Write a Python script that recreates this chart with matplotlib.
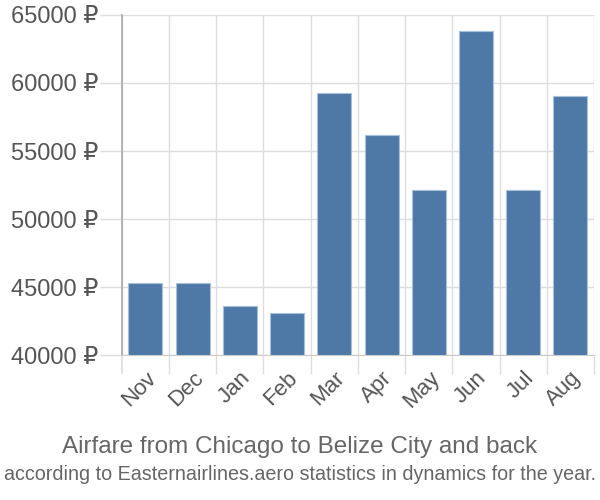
import matplotlib
matplotlib.use("Agg")
import matplotlib.pyplot as plt
import numpy as np

plt.rcParams['font.family'] = ['Liberation Sans', 'DejaVu Sans']

months = ["Nov", "Dec", "Jan", "Feb", "Mar", "Apr", "May", "Jun", "Jul", "Aug"]
prices = [45300, 45300, 43600, 43100, 59250, 56200, 52150, 63850, 52150, 59050]
yticks = [40000, 45000, 50000, 55000, 60000, 65000]

fig = plt.figure(figsize=(6, 5), dpi=100)
ax = fig.add_axes([0.203, 0.29, 0.787, 0.68])

x = np.arange(len(months))
ax.bar(x, [p - 40000 for p in prices], bottom=40000, width=0.72,
       color="#4e79a7", edgecolor="#a9c0d9", linewidth=0.8, zorder=3)

ax.set_xlim(-0.5, len(months) - 0.5)
ax.set_ylim(40000, 65000)
ax.set_yticks(yticks)
ax.set_yticklabels([f"{v} ₽" for v in yticks])
ax.set_xticks(x)
ax.set_xticklabels(months, rotation=45, ha="right", rotation_mode="anchor")
ax.set_xticks(np.arange(-0.5, len(months)), minor=True)

grid_c = "#dddddd"
ax.grid(True, axis="y", color=grid_c, linewidth=1, zorder=0)
ax.grid(True, axis="x", which="minor", color=grid_c, linewidth=1, zorder=0)
ax.tick_params(axis="x", which="major", length=0, labelsize=16, labelcolor="#555555", pad=9)
ax.tick_params(axis="x", which="minor", length=14, color=grid_c, width=1)
ax.tick_params(axis="y", length=16, color=grid_c, width=1, labelsize=17, labelcolor="#555555", pad=1)
t0 = ax.xaxis.get_minor_ticks()[0]
t0.tick1line.set_color("#aaaaaa")
t0.tick1line.set_markeredgewidth(1.2)

for s in ["top", "right"]:
    ax.spines[s].set_visible(False)
ax.spines["left"].set_color("#aaaaaa")
ax.spines["left"].set_linewidth(1.2)
ax.spines["bottom"].set_color("#cccccc")

fig.text(0.5, 0.106, "Airfare from Chicago to Belize City and back", ha="center",
         va="center", fontsize=17.5, color="#666666")
fig.text(0.5, 0.05, "according to Easternairlines.aero statistics in dynamics for the year.",
         ha="center", va="center", fontsize=14.2, color="#666666")

fig.savefig("out.png", dpi=100)
